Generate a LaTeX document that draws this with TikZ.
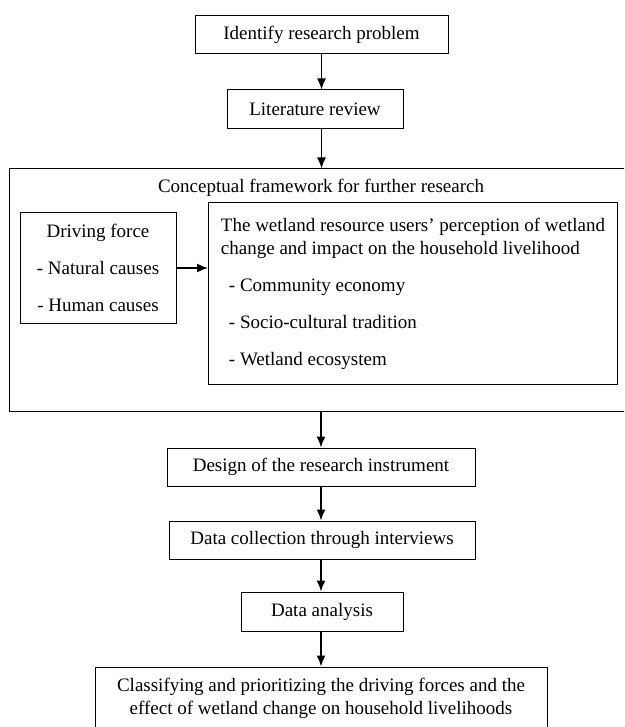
\documentclass[tikz,border=0pt]{standalone}
\usepackage{fontspec}
\setmainfont{Liberation Serif}
\usetikzlibrary{arrows.meta,positioning}
\tikzset{%
	process/.style  = {draw, rectangle, line width=1pt, minimum height=38pt, inner sep=0pt, text centered, font=\fontsize{19}{23}\selectfont},
	listbox/.style  = {draw, rectangle, line width=1pt, inner sep=0pt, font=\fontsize{19}{23}\selectfont},
	outerbox/.style = {draw, rectangle, line width=1pt, inner sep=0pt},
	arrow/.style    = {line width=1.5pt, -{Latex[length=11pt,width=9pt]}},
}
\newcommand{\gap}{\\[14pt]}
\newcommand{\ind}{\hspace*{8pt}}

\begin{document}
\begin{tikzpicture}[x=1pt,y=-1pt]
	\useasboundingbox (0,0) rectangle (624,727);
	\clip (0,0) rectangle (624,727);
	
	\node[process, minimum width=253pt] (problem) at (321.5,35) {Identify research problem};
	\node[process, minimum width=176pt, minimum height=39pt] (review) at (315,109.5) {Literature review};
	
	\node[outerbox, minimum width=624pt, minimum height=242pt] (framework) at (321,290) {};
	\node[font=\fontsize{19}{23}\selectfont] (fwtitle) at (321,188) {Conceptual framework for further research};
	\node[listbox, minimum width=156pt, minimum height=110pt, align=center] (drv) at (98,268)
		{Driving force\gap - Natural causes\gap - Human causes};
	\node[listbox, minimum width=409pt, minimum height=181pt, align=left, inner xsep=5pt, anchor=west] (perc) at (208,293.5)
		{The wetland resource users’ perception of wetland\\change and impact on the household livelihood\gap
		\ind- Community economy\gap \ind- Socio-cultural tradition\gap \ind- Wetland ecosystem};
	
	\node[process, minimum width=308pt] (design) at (321,467) {Design of the research instrument};
	\node[process, minimum width=306pt] (collect) at (322,540) {Data collection through interviews};
	\node[process, minimum width=162pt, minimum height=39pt] (analysis) at (322,611.5) {Data analysis};
	\node[process, minimum width=452pt, minimum height=62pt, align=center] (result) at (321,698)
		{Classifying and prioritizing the driving forces and the\\effect of wetland change on household livelihoods};
	
	\draw[arrow] (problem) -- (problem |- review.north);
	\draw[arrow] (problem |- review.south) -- (problem |- framework.north);
	\draw[arrow] (drv) -- (drv -| perc.west);
	\draw[arrow] (design |- framework.south) -- (design);
	\draw[arrow] (design) -- (design |- collect.north);
	\draw[arrow] (design |- collect.south) -- (design |- analysis.north);
	\draw[arrow] (design |- analysis.south) -- (design |- result.north);
\end{tikzpicture}
\end{document}
